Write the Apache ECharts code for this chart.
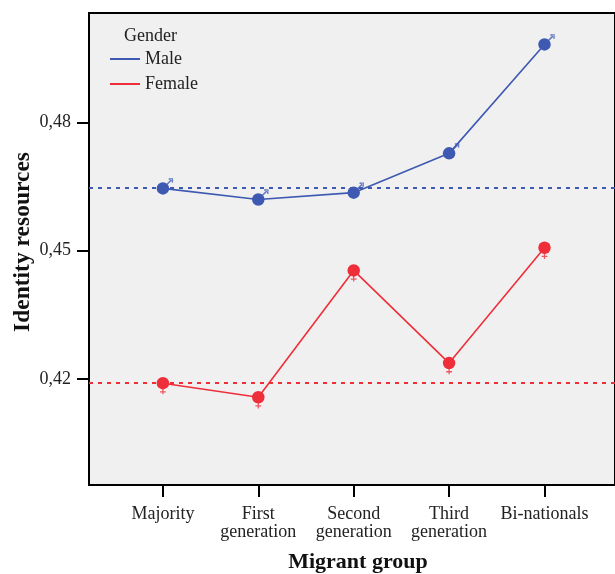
<!DOCTYPE html>
<html>
<head>
<meta charset="utf-8">
<script src="https://cdn.jsdelivr.net/npm/echarts@6/dist/echarts.min.js"></script>
<style>
  html, body { margin: 0; padding: 0; background: #ffffff; overflow: hidden; }
  #chart { width: 615px; height: 574px; }
</style>
</head>
<body>
<div id="chart"></div>
<script>
// Migrant groups along the x axis
var categories = ['Majority', 'First\ngeneration', 'Second\ngeneration', 'Third\ngeneration', 'Bi-nationals'];

// Mean identity resources per group
var maleValues   = [0.4646, 0.4620, 0.4636, 0.4728, 0.4983];
var femaleValues = [0.4190, 0.4157, 0.4454, 0.4237, 0.4507];

// Reference levels (dashed lines)
var maleReference   = 0.4647;
var femaleReference = 0.4192;

// Y axis tick labels
var yTicks = [0.42, 0.45, 0.48];

// Category positions run 0..4; the plot extends past both ends
var X_MIN = -0.7747;
var X_MAX = 4.739;

var BLUE = '#3e59b1';
var RED = '#ee2f3a';
var FONT = '"Liberation Serif", "DejaVu Serif", serif';

// Arrow of the male sign, drawn up-right of the marker circle
var maleSign = 'path://' +
  'M4.73 -3.67 L9.83 -8.77 L8.77 -9.83 L3.67 -4.73 Z' +
  'M5.8 -10.2 L10.2 -10.2 L10.2 -8.7 L5.8 -8.7 Z' +
  'M8.7 -10.2 L10.2 -10.2 L10.2 -5.8 L8.7 -5.8 Z';
// Cross of the female sign, drawn below the marker circle
var femaleSign = 'path://' +
  'M-0.65 5 L0.65 5 L0.65 11.2 L-0.65 11.2 Z' +
  'M-3 8 L3 8 L3 9.3 L-3 9.3 Z';

function pairs(values) {
  return values.map(function (v, i) { return [i, v]; });
}

function referenceLine(v) {
  return [{ coord: [X_MIN, v] }, { coord: [X_MAX, v] }];
}

function dashedLevel(color, v) {
  return {
    silent: true,
    symbol: ['none', 'none'],
    label: { show: false },
    lineStyle: { color: color, type: [4, 5], width: 2 },
    data: [referenceLine(v)]
  };
}

var chart = echarts.init(document.getElementById('chart'), null, { renderer: 'canvas' });

chart.setOption({
  backgroundColor: '#ffffff',
  animation: false,
  textStyle: { fontFamily: FONT },
  grid: {
    left: 89,
    right: -5,
    top: 13,
    height: 472,
    show: true,
    backgroundColor: '#f0f0f0',
    borderColor: '#000000',
    borderWidth: 2
  },
  graphic: [
    {
      type: 'text',
      left: 124,
      top: 27,
      style: { text: 'Gender', fontFamily: FONT, fontSize: 18, fill: '#222222' }
    },
    {
      // y axis title
      type: 'text',
      x: 23,
      y: 242,
      rotation: Math.PI / 2,
      style: {
        text: 'Identity resources',
        fontFamily: FONT,
        fontSize: 23.5,
        fontWeight: 'bold',
        fill: '#111111',
        align: 'center',
        verticalAlign: 'middle'
      }
    },
    {
      // x axis title
      type: 'text',
      x: 358,
      y: 562,
      style: {
        text: 'Migrant group',
        fontFamily: FONT,
        fontSize: 22,
        fontWeight: 'bold',
        fill: '#111111',
        align: 'center',
        verticalAlign: 'middle'
      }
    }
  ],
  legend: {
    orient: 'vertical',
    left: 110,
    top: 50,
    padding: 0,
    itemGap: 7,
    itemWidth: 30,
    itemHeight: 2,
    icon: 'rect',
    textStyle: { fontFamily: FONT, fontSize: 18, color: '#222222' },
    data: ['Male', 'Female']
  },
  xAxis: {
    type: 'value',
    min: X_MIN,
    max: X_MAX,
    splitLine: { show: false },
    axisLine: { show: true, onZero: false, lineStyle: { color: '#000000', width: 2 } },
    axisTick: {
      show: true,
      length: 12,
      customValues: [0, 1, 2, 3, 4],
      lineStyle: { color: '#000000', width: 2 }
    },
    axisLabel: {
      customValues: [0, 1, 2, 3, 4],
      margin: 20,
      fontFamily: FONT,
      fontSize: 18,
      lineHeight: 18,
      color: '#222222',
      formatter: function (v) { return categories[Math.round(v)] || ''; }
    }
  },
  yAxis: {
    type: 'value',
    min: 0.39516,
    max: 0.50566,
    splitLine: { show: false },
    axisLine: { show: true, onZero: false, lineStyle: { color: '#000000', width: 2 } },
    axisTick: {
      show: true,
      length: 12,
      customValues: yTicks,
      lineStyle: { color: '#000000', width: 2 }
    },
    axisLabel: {
      customValues: yTicks,
      margin: 18,
      fontFamily: FONT,
      fontSize: 18,
      color: '#222222',
      formatter: function (v) { return v.toFixed(2).replace('.', ','); }
    }
  },
  series: [
    {
      name: 'Male',
      type: 'line',
      data: pairs(maleValues),
      color: BLUE,
      lineStyle: { color: BLUE, width: 1.6 },
      itemStyle: { color: BLUE },
      symbol: 'circle',
      symbolSize: 12.5,
      showAllSymbol: true,
      z: 3,
      markLine: dashedLevel(BLUE, maleReference)
    },
    {
      name: 'Female',
      type: 'line',
      data: pairs(femaleValues),
      color: RED,
      lineStyle: { color: RED, width: 1.6 },
      itemStyle: { color: RED },
      symbol: 'circle',
      symbolSize: 12.5,
      showAllSymbol: true,
      z: 3,
      markLine: dashedLevel(RED, femaleReference)
    },
    {
      name: 'Male sign',
      type: 'scatter',
      data: pairs(maleValues),
      itemStyle: { color: BLUE },
      symbol: maleSign,
      symbolSize: [6.53, 6.53],
      symbolOffset: [6.935, -6.935],
      symbolKeepAspect: true,
      silent: true,
      z: 4
    },
    {
      name: 'Female sign',
      type: 'scatter',
      data: pairs(femaleValues),
      itemStyle: { color: RED },
      symbol: femaleSign,
      symbolSize: [6, 6.2],
      symbolOffset: [0, 8.1],
      symbolKeepAspect: true,
      silent: true,
      z: 4
    }
  ]
});
</script>
</body>
</html>
